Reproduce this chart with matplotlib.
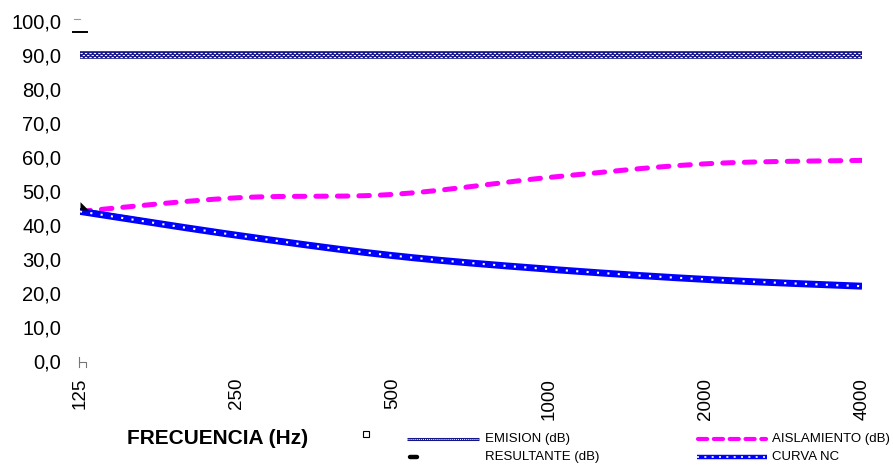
import numpy as np
import matplotlib
matplotlib.use("Agg")
import matplotlib.pyplot as plt
from matplotlib.lines import Line2D

plt.rcParams['font.family'] = ['Liberation Sans', 'DejaVu Sans']

frecuencias = ['125', '250', '500', '1000', '2000', '4000']
emision = [90.0, 90.0, 90.0, 90.0, 90.0, 90.0]
aislamiento = [44.0, 48.0, 49.0, 54.0, 58.0, 59.0]
resultante = [44.4, 37.0, 31.0, 27.0, 24.0, 22.0]
curva_nc = [44.0, 37.0, 31.0, 27.0, 24.0, 22.0]
y_ticks = [0, 10, 20, 30, 40, 50, 60, 70, 80, 90, 100]


def smooth(yvals, steps=40):
    """Bezier smoothing through the points (spreadsheet-style smoothed line)."""
    x = np.arange(len(yvals), dtype=float)
    y = np.asarray(yvals, dtype=float)
    pts = np.column_stack([x, y])
    n = len(pts)
    out = []
    for i in range(n - 1):
        p0 = pts[i - 1] if i > 0 else pts[i]
        p1 = pts[i]
        p2 = pts[i + 1]
        p3 = pts[i + 2] if i + 2 < n else pts[i + 1]
        c1 = p1 + (p2 - p0) / 6.0
        c2 = p2 - (p3 - p1) / 6.0
        t = np.linspace(0, 1, steps, endpoint=(i == n - 2))[:, None]
        seg = ((1 - t) ** 3) * p1 + 3 * ((1 - t) ** 2) * t * c1 + 3 * (1 - t) * t ** 2 * c2 + t ** 3 * p2
        out.append(seg)
    out = np.vstack(out)
    return out[:, 0], out[:, 1]


W, H = 893, 469
fig = plt.figure(figsize=(W / 100, H / 100), dpi=100)
ax = fig.add_axes([80 / W, 108 / H, 782 / W, 340 / H])
PX = 100.0 / 340.0  # one pixel in data units along y

# EMISION: navy band with a fine checker of white dots
xe, ye = smooth(emision)
ax.plot(xe, ye, color='#15158a', lw=5.5, solid_capstyle='butt', zorder=2)
for k, off in enumerate((-2.2, 0.0, 2.2)):
    ax.plot(xe, ye + off * PX, color='white', lw=0.8,
            linestyle=((2.0 if k % 2 else 0.0), (2.0, 2.0)),
            dash_capstyle='butt', zorder=3)

# AISLAMIENTO: magenta dashed
xa, ya = smooth(aislamiento)
ax.plot(xa, ya, color='#ff00ff', lw=3.6, dashes=(2.1, 2.2), dash_capstyle='round', zorder=4)

# RESULTANTE: black, mostly under the NC curve
xr, yr = smooth(resultante)
ax.plot(xr, yr, color='black', lw=3.0, solid_capstyle='butt', zorder=5)
ax.plot([0], [resultante[0]], linestyle='none', marker=[(0, 0), (0, 1), (1, 0)],
        markersize=12, color='black', markeredgewidth=0, clip_on=False, zorder=8)

# CURVA NC: blue band with white square dots
xn, yn = smooth(curva_nc)
ax.plot(xn, yn, color='#0000ff', lw=5.0, solid_capstyle='butt', zorder=6)
ax.plot(xn, yn, color='white', lw=1.5, dashes=(1.0, 4.0), dash_capstyle='butt', zorder=7)

ax.set_xlim(0, len(frecuencias) - 1)
ax.set_ylim(0, 100)
ax.set_xticks(range(len(frecuencias)))
ax.set_xticklabels(frecuencias, rotation=90, fontsize=13.5, va='top', ha='center')
ax.set_yticks(y_ticks)
ax.set_yticklabels([f"{v:.1f}".replace('.', ',') for v in y_ticks], fontsize=14.5)
ax.tick_params(length=0)
ax.tick_params(axis='y', pad=13.5)
ax.tick_params(axis='x', pad=12)
for s in ax.spines.values():
    s.set_visible(False)
ax.patch.set_alpha(0)


def fig_line(xs, ys, **kw):
    fig.add_artist(Line2D([x / W for x in xs], [1 - y / H for y in ys], **kw))


# small leftover marks at the top and bottom of the value axis
fig_line([74, 80], [19.5, 19.5], color='#999999', lw=0.8)
fig_line([73, 87], [32.5, 32.5], color='black', lw=1.4)
fig_line([79, 79], [357, 367], color='#777777', lw=0.8)
fig_line([79, 86, 86], [362, 362, 367], color='#777777', lw=0.8)

fig.text(127 / W, 1 - 438 / H, 'FRECUENCIA (Hz)', fontsize=15, fontweight='bold',
         va='center', ha='left')

# small hollow square near the legend
fig.add_artist(Line2D([366 / W], [1 - 434 / H], marker='s', markersize=5,
                      markerfacecolor='white', markeredgecolor='black',
                      markeredgewidth=0.8, linestyle='none'))

# legend entries
fig_line([407, 479], [439, 439], color='#15158a', lw=2.2, solid_capstyle='butt')
fig_line([407, 479], [439, 439], color='white', lw=0.7, dashes=(1, 1))
fig.text(485 / W, 1 - 439 / H, 'EMISION (dB)', fontsize=9.5, va='center')

fig_line([410, 417], [457, 457], color='black', lw=3.2, solid_capstyle='round')
fig.text(485 / W, 1 - 457 / H, 'RESULTANTE (dB)', fontsize=9.5, va='center')

fig_line([698, 766], [439, 439], color='#ff00ff', lw=3.0, dashes=(2.2, 1.6), dash_capstyle='round')
fig.text(772 / W, 1 - 439 / H, 'AISLAMIENTO (dB)', fontsize=9.5, va='center')

fig_line([697, 767], [457, 457], color='#0000ff', lw=3.2, solid_capstyle='butt')
fig_line([697, 767], [457, 457], color='white', lw=1.2, dashes=(1.2, 3.2))
fig.text(772 / W, 1 - 457 / H, 'CURVA NC', fontsize=9.5, va='center')

fig.savefig('out.png', dpi=100)
